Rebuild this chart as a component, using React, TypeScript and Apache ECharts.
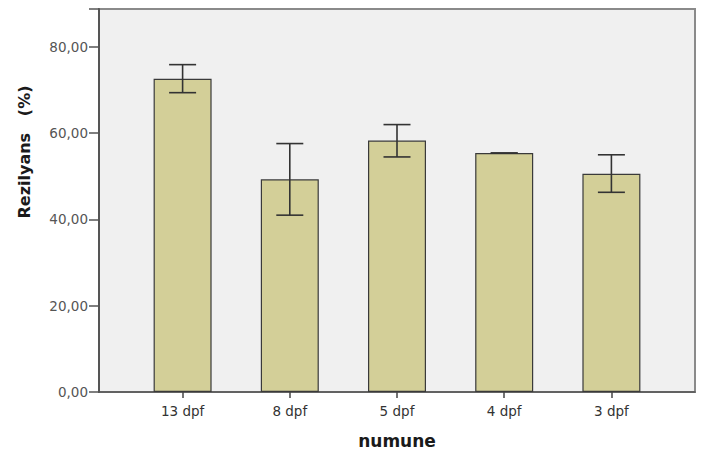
import React, { useEffect, useRef } from "react";
import * as echarts from "echarts";

const categories = ["13 dpf", "8 dpf", "5 dpf", "4 dpf", "3 dpf"];
const means = [72.6, 49.3, 58.3, 55.4, 50.6];
const errLow = [69.4, 41.0, 54.5, 55.4, 46.3];
const errHigh = [75.9, 57.6, 62.0, 55.4, 55.0];
const yTicks = [0, 20, 40, 60, 80];
const yMax = 88.8;

const fmt = (v: number) => v.toFixed(2).replace(".", ",");
const FONT = "DejaVu Sans, Arial, sans-serif";

export default function App() {
  const ref = useRef<HTMLDivElement>(null);
  useEffect(() => {
    if (!ref.current) return;
    const chart = echarts.init(ref.current, undefined, { renderer: "svg" });
    const errData = categories.map((_, i) => [i, errLow[i], errHigh[i]]);
    chart.setOption({
      animation: false,
      textStyle: { fontFamily: FONT },
      grid: [
        {
          left: 99,
          right: 26,
          top: 9,
          bottom: 58,
          show: true,
          backgroundColor: "#f0f0f0",
          borderColor: "#8a8a8a",
          borderWidth: 2,
          outerBoundsMode: "none",
          containLabel: false,
        },
        { left: 129, right: 56, top: 9, bottom: 58, outerBoundsMode: "none", containLabel: false },
      ],
      xAxis: [
        {
          type: "value",
          gridIndex: 0,
          min: 0,
          max: 1,
          show: true,
          axisLine: { show: true, lineStyle: { color: "#555", width: 1.5 } },
          axisTick: { show: false },
          axisLabel: { show: false },
          splitLine: { show: false },
          name: "numune",
          nameLocation: "middle",
          nameGap: 40,
          nameTextStyle: { fontWeight: "bold", fontSize: 17, color: "#1a1a1a", fontFamily: FONT },
        },
        {
          type: "category",
          gridIndex: 1,
          data: categories,
          axisLine: { show: false },
          axisTick: {
            show: true,
            alignWithLabel: true,
            length: 6,
            lineStyle: { color: "#444", width: 1.5 },
          },
          axisLabel: { color: "#333", fontSize: 13.5, margin: 12, fontFamily: FONT },
        },
      ],
      yAxis: [
        {
          type: "value",
          gridIndex: 0,
          min: 0,
          max: yMax,
          interval: 20,
          axisLine: { show: true, lineStyle: { color: "#555", width: 2 } },
          axisTick: { show: true, length: 10, lineStyle: { color: "#555", width: 1.5 } },
          axisLabel: {
            color: "#555",
            fontSize: 13.5,
            margin: 11,
            fontFamily: FONT,
            formatter: (v: number) => (yTicks.includes(v) ? fmt(v) : ""),
          },
          splitLine: { show: false },
        },
        {
          type: "value",
          gridIndex: 1,
          min: 0,
          max: yMax,
          show: false,
          splitLine: { show: false },
        },
      ],
      graphic: [
        {
          type: "text",
          x: 24,
          y: 152,
          rotation: Math.PI / 2,
          style: {
            text: "Rezilyans   (%)",
            font: "bold 16px DejaVu Sans, Arial, sans-serif",
            fill: "#1a1a1a",
            align: "center",
            verticalAlign: "middle",
          },
        },
      ],
      series: [
        {
          type: "bar",
          xAxisIndex: 1,
          yAxisIndex: 1,
          data: means,
          barWidth: 58,
          itemStyle: { color: "#d3cf98", borderColor: "#3a3a3a", borderWidth: 1.2 },
        },
        {
          type: "custom",
          xAxisIndex: 1,
          yAxisIndex: 1,
          data: errData,
          renderItem: (params: any, api: any) => {
            const x = api.value(0);
            const lo = api.coord([x, api.value(1)]);
            const hi = api.coord([x, api.value(2)]);
            const hw = 13.5;
            const style = { stroke: "#333", lineWidth: 1.6 };
            return {
              type: "group",
              children: [
                { type: "line", shape: { x1: hi[0], y1: hi[1], x2: lo[0], y2: lo[1] }, style },
                { type: "line", shape: { x1: hi[0] - hw, y1: hi[1], x2: hi[0] + hw, y2: hi[1] }, style },
                { type: "line", shape: { x1: lo[0] - hw, y1: lo[1], x2: lo[0] + hw, y2: lo[1] }, style },
              ],
            };
          },
          z: 5,
        },
      ],
    });
    return () => chart.dispose();
  }, []);
  return (
    <div
      ref={ref}
      style={{ position: "fixed", left: 0, top: 0, width: 721, height: 450, background: "#fff" }}
    />
  );
}
